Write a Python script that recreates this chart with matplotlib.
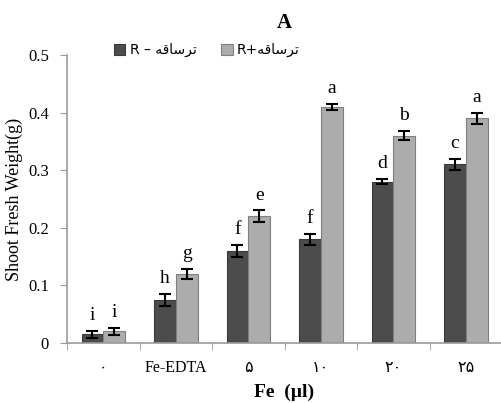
import numpy as np
import matplotlib.pyplot as plt

categories = ['۰', 'Fe-EDTA', '۵', '۱۰', '۲۰', '۲۵']
minus_vals = [0.015, 0.075, 0.16, 0.18, 0.28, 0.31]
plus_vals = [0.02, 0.12, 0.22, 0.41, 0.36, 0.39]
minus_err = [0.006, 0.01, 0.01, 0.01, 0.004, 0.01]
plus_err = [0.006, 0.009, 0.01, 0.005, 0.008, 0.01]
minus_letters = ['i', 'h', 'f', 'f', 'd', 'c']
plus_letters = ['i', 'g', 'e', 'a', 'b', 'a']

# shaped arabic word (presentation forms, visual order)
word = '\ufeea\ufed7\ufe8e\ufeb3\ufeae\ufe97'
legend_labels = ['R \u2013 ' + word, 'R+' + word]

serif = 'Liberation Serif'
fig = plt.figure(figsize=(5.02, 4.03), dpi=100)
ax = fig.add_axes([0.1335, 0.149, 0.8665, 0.7145])

x = np.arange(len(categories))
w = 0.3
ax.bar(x - w/2, minus_vals, w, color='#4c4c4c', edgecolor='#3a3a3a', lw=0.8,
       yerr=minus_err, capsize=4, error_kw=dict(lw=1.5, capthick=1.5, ecolor='black'),
       label=legend_labels[0])
ax.bar(x + w/2, plus_vals, w, color='#acacac', edgecolor='#808080', lw=0.8,
       yerr=plus_err, capsize=4, error_kw=dict(lw=1.5, capthick=1.5, ecolor='black'),
       label=legend_labels[1])

for i in range(len(x)):
    ax.text(x[i] - w/2, minus_vals[i] + minus_err[i] + 0.012, minus_letters[i],
            ha='center', va='bottom', fontsize=14, family=serif)
    ax.text(x[i] + w/2, plus_vals[i] + plus_err[i] + 0.012, plus_letters[i],
            ha='center', va='bottom', fontsize=14, family=serif)

ax.set_xlim(-0.5, len(x) - 0.5)
ax.set_ylim(0, 0.5)
ax.set_yticks([0, 0.1, 0.2, 0.3, 0.4, 0.5])
ax.set_yticklabels(['0', '0.1', '0.2', '0.3', '0.4', '0.5'], family=serif, fontsize=12)
ax.set_xticks(x)
ax.set_xticklabels(categories, family=['Liberation Serif', 'DejaVu Sans'], fontsize=11.5)
ax.set_xticks(np.arange(len(x) + 1) - 0.5, minor=True)
ax.tick_params(axis='x', which='major', length=0, pad=12)
ax.tick_params(axis='x', which='minor', length=5, color='#999999')
ax.tick_params(axis='y', length=5, color='#999999', pad=8)
for s in ['top', 'right']:
    ax.spines[s].set_visible(False)
for s in ['left', 'bottom']:
    ax.spines[s].set_color('#999999')
    ax.spines[s].set_linewidth(1.2)

ax.set_ylabel('Shoot Fresh Weight(g)', family=serif, fontsize=13, labelpad=4)
ax.set_xlabel('Fe  (\u00b5l)', family=serif, fontsize=14, fontweight='bold', labelpad=6)
fig.text(0.567, 0.93, 'A', family=serif, fontsize=15, fontweight='bold', ha='center')

ax.legend(loc='upper left', bbox_to_anchor=(0.08, 1.085), ncol=2, frameon=False,
          prop=dict(family='DejaVu Sans', size=10), handlelength=0.8, handleheight=0.8,
          handletextpad=0.3, columnspacing=1.8)

fig.savefig('out.png', dpi=100)
